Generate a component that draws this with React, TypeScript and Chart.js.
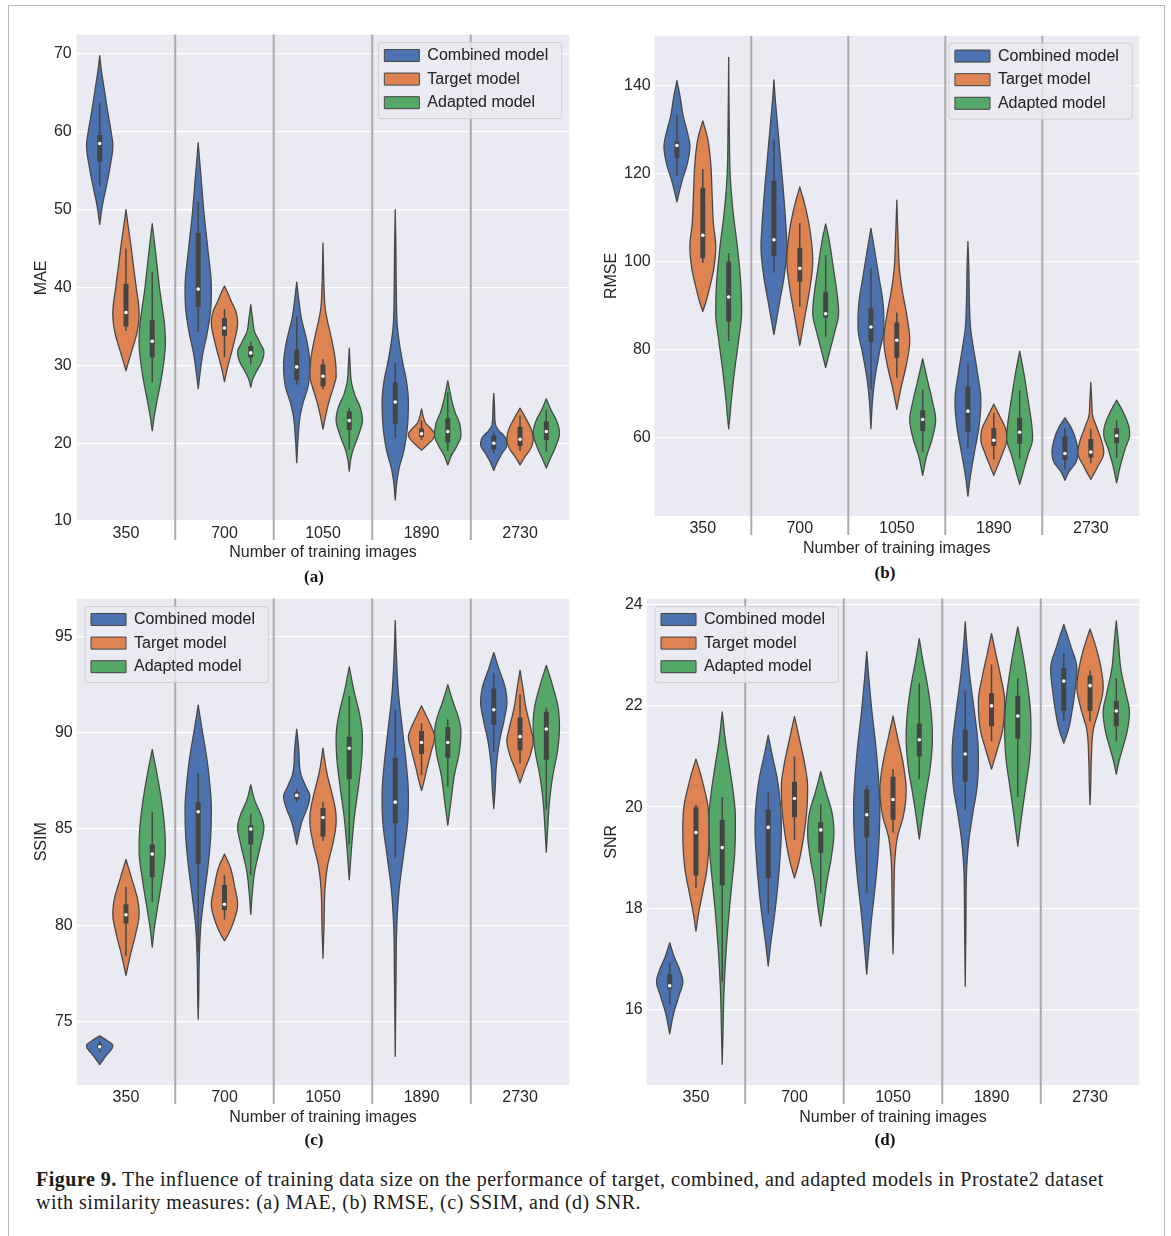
import React, { useEffect, useRef } from 'react';
import { Chart, registerables } from 'chart.js';

Chart.register(...registerables);

const FONT = '"Liberation Sans", Arial, Helvetica, sans-serif';
Chart.defaults.font.family = FONT;
Chart.defaults.font.size = 16;
Chart.defaults.color = '#262626';

// ---------------- DATA ----------------
const groups = ['350', '700', '1050', '1890', '2730'];
const seriesNames = ['Combined model', 'Target model', 'Adapted model'];
const seriesColors = ['#4C72B0', '#DD8452', '#55A868'];
const xTitle = 'Number of training images';

// y-axis ranges [min, max] and tick step
const maeRange = [10, 72.5];
const maeStep = 10;
const rmseRange = [42.3, 151.3];
const rmseStep = 20;
const ssimRange = [71.71, 96.97];
const ssimStep = 5;
const snrRange = [14.51, 24.12];
const snrStep = 2;

// Violin outlines: [value, relative half-width] from lower tip to upper tip (one per group)
// Box stats: [lower whisker, Q1, median, Q3, upper whisker] (one per group)

// (a) MAE
const maeCombinedShape = [
  [[48.1, 0], [50.5, 0.2], [52.7, 0.47], [55.3, 0.77], [58.3, 1], [59.6, 0.91], [62.5, 0.62], [66, 0.3], [68, 0.12], [69.8, 0]],
  [[27, 0], [29.1, 0.15], [31.5, 0.35], [34.3, 0.7], [37.6, 0.97], [40, 1], [44.7, 0.75], [49.4, 0.45], [54.1, 0.22], [56.5, 0.1], [58.6, 0]],
  [[17.5, 0], [20.6, 0.1], [23.4, 0.25], [25.3, 0.5], [27.2, 0.85], [30, 1], [32.9, 0.8], [36.1, 0.35], [38.5, 0.15], [40.7, 0]],
  [[12.7, 0], [15, 0.12], [16.8, 0.3], [19, 0.65], [22, 0.92], [25.3, 1], [28, 0.85], [30.5, 0.55], [33, 0.3], [35.2, 0.15], [40, 0.08], [45, 0.05], [50, 0]],
  [[16.5, 0], [17.5, 0.25], [18.6, 0.6], [19.8, 1], [20.8, 0.85], [21.6, 0.4], [22.5, 0.12], [24.5, 0.06], [26.4, 0]],
];
const maeCombinedBox = [[53.0, 56.2, 58.5, 59.6, 63.8], [34.3, 37.5, 39.8, 47, 51], [27.5, 28.1, 29.8, 32, 36.3], [20.6, 22.5, 25.3, 27.8, 30.3], [18.7, 19.2, 20, 21, 21.5]];
const maeTargetShape = [
  [[29.3, 0], [30.5, 0.2], [31.9, 0.45], [34.3, 0.85], [36.6, 1], [40.4, 0.75], [43, 0.55], [45.1, 0.4], [47.5, 0.2], [50, 0]],
  [[27.9, 0], [29.5, 0.2], [30.5, 0.35], [32.9, 0.72], [35.5, 1], [37, 0.85], [38.1, 0.55], [39.3, 0.25], [40.2, 0]],
  [[21.8, 0], [23.5, 0.2], [25.3, 0.45], [27.5, 0.85], [28.6, 1], [30.5, 0.95], [33.8, 0.6], [36, 0.3], [37.6, 0.15], [40, 0.08], [45.7, 0]],
  [[19.1, 0], [19.8, 0.45], [20.5, 0.85], [21.1, 1], [21.8, 0.75], [22.5, 0.35], [23.3, 0.15], [24.4, 0]],
  [[17.2, 0], [18.2, 0.35], [19.3, 0.8], [20.5, 1], [21.8, 0.85], [23, 0.5], [24.5, 0]],
];
const maeTargetBox = [[34.4, 35, 36.8, 40.5, 45], [31, 33.8, 34.8, 36.1, 37.2], [26.9, 27.3, 28.6, 30.1, 30.8], [20.4, 20.8, 21.2, 21.9, 22.9], [19, 19.6, 20.5, 22.1, 23.6]];
const maeAdaptedShape = [
  [[21.6, 0], [23.4, 0.15], [25.3, 0.35], [28.2, 0.68], [31, 0.92], [32.9, 1], [35, 0.95], [37.6, 0.75], [40, 0.55], [42.3, 0.4], [45, 0.22], [48.2, 0]],
  [[27.2, 0], [28.2, 0.15], [29.1, 0.4], [30.5, 0.85], [31.7, 1], [32.9, 0.7], [34.3, 0.3], [36.2, 0.12], [37.8, 0]],
  [[16.4, 0], [18, 0.12], [19.2, 0.3], [21, 0.7], [23, 1], [24.5, 0.85], [26.3, 0.4], [28, 0.15], [30, 0.07], [32.2, 0]],
  [[17.2, 0], [18.5, 0.3], [19.5, 0.65], [21, 1], [22.5, 0.9], [24, 0.55], [25.5, 0.3], [27, 0.12], [28, 0]],
  [[16.8, 0], [18, 0.3], [19.5, 0.7], [21.3, 1], [22.8, 0.8], [24.3, 0.35], [25.7, 0]],
];
const maeAdaptedBox = [[27.8, 31, 33.1, 35.8, 42], [30.1, 31, 31.6, 32.5, 33.1], [19.2, 21.7, 22.9, 24.1, 24.6], [19, 20.1, 21.5, 23.2, 26.5], [18.9, 20.4, 21.5, 22.8, 24.3]];

// (b) RMSE
const rmseCombinedShape = [
  [[113.6, 0], [116.1, 0.2], [118.6, 0.42], [122, 0.78], [126.2, 1], [129.5, 0.8], [132.9, 0.5], [137.9, 0.22], [141.1, 0]],
  [[83.5, 0], [86.8, 0.2], [91, 0.45], [96.9, 0.8], [103.6, 1], [106.9, 0.95], [115.3, 0.75], [123.7, 0.5], [132, 0.25], [137, 0.1], [141.3, 0]],
  [[62.1, 0], [68.4, 0.12], [73.4, 0.3], [79.3, 0.65], [85.1, 1], [90.2, 0.95], [96.9, 0.6], [102.7, 0.28], [107.6, 0]],
  [[46.8, 0], [51.6, 0.2], [56.7, 0.5], [62.5, 0.85], [68.4, 1], [75.1, 0.72], [81.8, 0.35], [85, 0.2], [90.2, 0.12], [98.5, 0.07], [104.6, 0]],
  [[50.4, 0], [52.3, 0.3], [54.5, 0.85], [56.7, 1], [60, 0.8], [62.5, 0.45], [64.6, 0]],
];
const rmseCombinedBox = [[119.5, 123.6, 126.4, 127.3, 133.3], [97.5, 101.3, 105, 118.4, 127.8], [71, 81.8, 85.2, 89.4, 98.6], [57.6, 61.5, 66.1, 71.6, 77], [52.9, 55, 56.5, 60.4, 62.3]];
const rmseTargetShape = [
  [[88.7, 0], [91, 0.25], [94.4, 0.55], [98.5, 0.85], [103.6, 1], [108.6, 0.82], [115.3, 0.72], [122, 0.62], [127.9, 0.38], [132, 0]],
  [[81, 0], [83.5, 0.15], [87.7, 0.4], [93.5, 0.75], [100.2, 1], [106.9, 0.8], [112.8, 0.4], [117, 0]],
  [[66.5, 0], [68.4, 0.12], [71.7, 0.35], [76.8, 0.75], [82.2, 1], [87.7, 0.78], [93.5, 0.42], [98.5, 0.2], [105, 0.1], [114, 0]],
  [[51.5, 0], [53.7, 0.3], [56.7, 0.7], [59.6, 1], [61.7, 0.95], [65, 0.45], [67.7, 0]],
  [[50.6, 0], [53.3, 0.5], [56.7, 1], [59.2, 0.85], [62.5, 0.45], [65, 0.15], [68, 0.08], [72.6, 0]],
];
const rmseTargetBox = [[99.7, 100.8, 106, 116.8, 121], [89.8, 95.5, 98.5, 103.2, 108.8], [73.7, 78.2, 82.2, 86.2, 88.5], [55.1, 58.2, 59.5, 62.3, 65.7], [54.3, 55.6, 56.8, 59.8, 62]];
const rmseAdaptedShape = [
  [[62.1, 0], [65, 0.1], [68.4, 0.2], [75.1, 0.45], [81.8, 0.75], [88.5, 1], [94.4, 0.95], [102.7, 0.7], [111.1, 0.35], [119.5, 0.12], [130, 0.05], [146.4, 0]],
  [[76, 0], [79.3, 0.28], [83.5, 0.65], [88.5, 1], [91.8, 0.92], [98.5, 0.6], [105.2, 0.25], [108.6, 0]],
  [[51.5, 0], [55.8, 0.3], [60, 0.75], [64.2, 1], [68.4, 0.75], [73.4, 0.35], [78, 0]],
  [[49.5, 0], [52.1, 0.25], [55.8, 0.6], [60, 1], [62.5, 0.95], [69.2, 0.62], [75.1, 0.3], [79.7, 0]],
  [[49.8, 0], [53.3, 0.25], [57.5, 0.65], [60.8, 1], [62.5, 0.95], [65.9, 0.5], [68.6, 0]],
];
const rmseAdaptedBox = [[82, 86.4, 92, 100, 102], [83, 87.3, 88.2, 93.2, 101.5], [56.9, 61.6, 64.2, 66.3, 71], [55.3, 58.7, 61.3, 64.6, 70.9], [55.5, 58.8, 60.5, 62.2, 64]];

// (c) SSIM
const ssimCombinedShape = [
  [[72.77, 0], [73.2, 0.45], [73.75, 1], [74.0, 0.6], [74.26, 0]],
  [[75.13, 0], [76.3, 0.04], [78.2, 0.08], [80, 0.2], [81.5, 0.45], [83.1, 0.75], [84.6, 0.95], [86.1, 1], [87.2, 0.9], [88.7, 0.65], [90.15, 0.3], [91.44, 0]],
  [[84.2, 0], [84.6, 0.12], [85.4, 0.4], [86.1, 0.8], [86.7, 1], [87.2, 0.7], [87.9, 0.3], [89.2, 0.15], [90.19, 0]],
  [[73.2, 0], [77.3, 0.06], [80, 0.12], [81.9, 0.3], [83.5, 0.6], [85.4, 0.95], [86.8, 1], [88.3, 0.85], [90.15, 0.55], [92, 0.25], [93.8, 0.1], [95.83, 0]],
  [[86.06, 0], [87, 0.1], [88.3, 0.2], [89.6, 0.45], [90.7, 0.8], [91.6, 1], [92.4, 0.85], [93.3, 0.4], [94.17, 0]],
];
const ssimCombinedBox = [[73.4, 73.6, 73.7, 73.85, 74], [78.6, 83.2, 85.9, 86.4, 87.9], [86.4, 86.55, 86.75, 86.9, 87.1], [83.5, 85.3, 86.4, 88.7, 91.2], [89, 90.4, 91.2, 92.3, 93.1]];
const ssimTargetShape = [
  [[77.4, 0], [78.5, 0.35], [79.5, 0.72], [80.6, 1], [81.3, 0.9], [82.4, 0.45], [83.42, 0]],
  [[79.2, 0], [79.55, 0.3], [80.2, 0.7], [81.1, 1], [82, 0.78], [83, 0.45], [83.7, 0]],
  [[78.3, 0], [80, 0.08], [81.9, 0.15], [83.1, 0.35], [84.25, 0.75], [85.4, 1], [85.9, 0.97], [86.8, 0.7], [87.9, 0.3], [89.2, 0]],
  [[87, 0], [87.5, 0.2], [88.1, 0.4], [89.05, 0.75], [89.8, 1], [90.15, 0.85], [90.9, 0.35], [91.4, 0]],
  [[87.4, 0], [88, 0.3], [88.9, 0.8], [89.6, 1], [90.15, 0.85], [91.3, 0.45], [92.4, 0.2], [93.25, 0]],
];
const ssimTargetBox = [[78.4, 80.1, 80.55, 81.1, 82], [80.3, 80.8, 81.1, 82.1, 82.6], [84.4, 84.6, 85.6, 86.1, 86.4], [87.8, 88.9, 89.5, 90.1, 90.5], [88.4, 89.1, 89.8, 90.8, 92]];
const ssimAdaptedShape = [
  [[78.87, 0], [79.8, 0.15], [80.9, 0.4], [82.4, 0.75], [83.9, 1], [85, 0.95], [86.5, 0.7], [87.9, 0.35], [89.14, 0]],
  [[80.57, 0], [81.7, 0.12], [82.8, 0.3], [84.25, 0.78], [85.1, 1], [85.7, 0.8], [86.5, 0.3], [87.3, 0]],
  [[82.37, 0], [84.25, 0.2], [85.7, 0.4], [87.2, 0.7], [88.7, 0.95], [89.8, 1], [90.9, 0.8], [92.2, 0.35], [93.43, 0]],
  [[85.2, 0], [86.5, 0.25], [87.8, 0.5], [88.9, 0.85], [90, 1], [90.7, 0.85], [91.6, 0.4], [92.5, 0]],
  [[83.8, 0], [85, 0.1], [86.5, 0.25], [87.8, 0.5], [89.05, 0.85], [90.3, 1], [91.3, 0.9], [92.4, 0.5], [93.5, 0]],
];
const ssimAdaptedBox = [[81.2, 82.5, 83.7, 84.2, 85.9], [82.6, 84.2, 85, 85.2, 85.8], [84.2, 87.6, 89.2, 89.8, 91.9], [87.2, 88.7, 89.5, 90.3, 90.7], [86, 88.6, 90.2, 91.1, 91.3]];

// (d) SNR
const snrCombinedShape = [
  [[15.52, 0], [15.92, 0.3], [16.27, 0.7], [16.55, 1], [16.76, 0.8], [17.04, 0.35], [17.32, 0]],
  [[16.86, 0], [17.32, 0.2], [17.8, 0.45], [18.37, 0.7], [19, 0.9], [19.56, 1], [19.98, 0.95], [20.54, 0.7], [21.03, 0.3], [21.42, 0]],
  [[16.7, 0], [17.32, 0.2], [17.87, 0.4], [18.58, 0.7], [19.28, 0.92], [19.98, 1], [20.47, 0.92], [21.18, 0.7], [21.88, 0.4], [22.58, 0.15], [23.07, 0]],
  [[16.46, 0], [17.67, 0.05], [18.72, 0.1], [19.28, 0.25], [19.84, 0.55], [20.4, 0.9], [20.96, 1], [21.32, 0.95], [21.88, 0.7], [22.58, 0.35], [23.28, 0.1], [23.66, 0]],
  [[21.26, 0], [21.53, 0.35], [21.88, 0.62], [22.3, 0.85], [22.72, 1], [23.21, 0.5], [23.61, 0]],
];
const snrCombinedBox = [[16.1, 16.4, 16.47, 16.7, 16.93], [17.9, 18.6, 19.6, 19.95, 20.3], [18.3, 19.4, 19.85, 20.35, 20.42], [19.95, 20.5, 21.05, 21.53, 22.3], [21.7, 21.9, 22.49, 22.75, 23.05]];
const snrTargetShape = [
  [[17.55, 0], [17.9, 0.2], [18.3, 0.5], [18.8, 0.85], [19.5, 1], [20, 0.92], [20.4, 0.6], [20.7, 0.3], [20.95, 0]],
  [[18.6, 0], [18.93, 0.35], [19.42, 0.7], [19.98, 0.95], [20.4, 1], [20.82, 0.8], [21.38, 0.35], [21.79, 0]],
  [[17.1, 0], [17.67, 0.05], [18.37, 0.08], [19, 0.15], [19.42, 0.35], [19.84, 0.8], [20.33, 1], [20.82, 0.8], [21.38, 0.35], [21.8, 0]],
  [[20.75, 0], [21.1, 0.4], [21.53, 0.85], [22.09, 1], [22.58, 0.7], [23, 0.35], [23.43, 0]],
  [[20.05, 0], [20.4, 0.05], [20.96, 0.1], [21.53, 0.25], [21.95, 0.7], [22.37, 1], [22.65, 0.9], [23.07, 0.55], [23.52, 0]],
];
const snrTargetBox = [[18.4, 18.65, 19.5, 20, 20.05], [19.35, 19.8, 20.17, 20.5, 21], [19.5, 19.75, 20.15, 20.6, 20.75], [21.3, 21.6, 22, 22.25, 22.82], [21.7, 21.9, 22.4, 22.6, 22.7]];
const snrAdaptedShape = [
  [[14.92, 0], [15.57, 0.06], [16.27, 0.12], [16.97, 0.25], [17.7, 0.45], [18.4, 0.7], [19.1, 0.95], [19.8, 1], [20.2, 0.88], [20.8, 0.55], [21.3, 0.25], [21.88, 0]],
  [[17.65, 0], [18, 0.2], [18.5, 0.45], [19, 0.8], [19.5, 1], [19.9, 0.85], [20.3, 0.4], [20.7, 0]],
  [[19.37, 0], [19.84, 0.25], [20.26, 0.5], [20.82, 0.85], [21.38, 1], [21.88, 0.9], [22.37, 0.65], [22.93, 0.25], [23.33, 0]],
  [[19.23, 0], [19.84, 0.3], [20.4, 0.6], [20.96, 0.9], [21.53, 1], [21.95, 0.95], [22.5, 0.7], [23.07, 0.35], [23.56, 0]],
  [[20.65, 0], [20.9, 0.2], [21.18, 0.5], [21.53, 0.85], [21.88, 1], [22.23, 0.75], [22.72, 0.35], [23.28, 0.15], [23.68, 0]],
];
const snrAdaptedBox = [[16.55, 18.45, 19.2, 19.75, 20.2], [18.3, 19.1, 19.55, 19.7, 20.05], [20.55, 21, 21.33, 21.65, 22.45], [20.2, 21.35, 21.8, 22.2, 22.55], [21.3, 21.6, 21.9, 22.1, 22.55]];

// ---------------- STYLE ----------------
const BG = '#EAEAF2';
const EDGE = '#484848';
const SEP = '#ababab';

// monotone cubic sampling of the outline knots (Fritsch-Carlson)
function sampleOutline(knots: number[][], steps = 10): number[][] {
  const n = knots.length;
  if (n < 2) return knots;
  const v = knots.map((k) => k[0]);
  const w = knots.map((k) => k[1]);
  const d: number[] = [];
  for (let k = 0; k < n - 1; k++) d.push((w[k + 1] - w[k]) / (v[k + 1] - v[k]));
  const m: number[] = new Array(n).fill(0);
  m[0] = d[0];
  m[n - 1] = d[n - 2];
  for (let k = 1; k < n - 1; k++) m[k] = d[k - 1] * d[k] <= 0 ? 0 : (d[k - 1] + d[k]) / 2;
  for (let k = 0; k < n - 1; k++) {
    if (d[k] === 0) {
      m[k] = 0;
      m[k + 1] = 0;
    } else {
      const a = m[k] / d[k];
      const b = m[k + 1] / d[k];
      const s = a * a + b * b;
      if (s > 9) {
        const t = 3 / Math.sqrt(s);
        m[k] = t * a * d[k];
        m[k + 1] = t * b * d[k];
      }
    }
  }
  const out: number[][] = [];
  for (let k = 0; k < n - 1; k++) {
    const h = v[k + 1] - v[k];
    for (let j = 0; j < steps; j++) {
      const t = j / steps;
      const t2 = t * t;
      const t3 = t2 * t;
      const val =
        (2 * t3 - 3 * t2 + 1) * w[k] + (t3 - 2 * t2 + t) * h * m[k] + (-2 * t3 + 3 * t2) * w[k + 1] + (t3 - t2) * h * m[k + 1];
      out.push([v[k] + t * h, Math.max(0, val)]);
    }
  }
  out.push([v[n - 1], w[n - 1]]);
  return out;
}

const violinPlugin = {
  id: 'violinPlugin',
  beforeDraw(chart: any, _args: any, opts: any) {
    const { ctx, chartArea: a } = chart;
    ctx.save();
    ctx.fillStyle = BG;
    ctx.fillRect(a.left, a.top, a.right - a.left, a.bottom - a.top);
    ctx.restore();
    // legend placement inside the plot
    const lg = chart.legend;
    if (lg && lg.legendItems) {
      ctx.save();
      ctx.font = `16px ${FONT}`;
      const textW = Math.max(...lg.legendItems.map((it: any) => ctx.measureText(it.text).width));
      ctx.restore();
      const pad = 7.6;
      const fw = 6 + 35 + 13 + textW + 8.4;
      const fh = 76;
      const fl = opts.side === 'right' ? a.right - opts.insetX - fw : a.left + opts.insetX;
      const ft = a.top + opts.insetY;
      chart.$legendFrame = { fl, ft, fw, fh };
      lg.left = fl + 6 - pad;
      lg.top = ft + 12.9 - pad - 8;
      lg.width = fw + 10;
      lg.height = fh + 10;
      lg.right = lg.left + lg.width;
      lg.bottom = lg.top + lg.height;
    }
  },
  beforeDatasetsDraw(chart: any) {
    const { ctx, chartArea: a, scales } = chart;
    const xs = scales.x;
    const ys = scales.y;
    ctx.save();
    // group separators
    ctx.strokeStyle = SEP;
    ctx.lineWidth = 2;
    for (let i = 0; i < groups.length - 1; i++) {
      const x = (xs.getPixelForTick(i) + xs.getPixelForTick(i + 1)) / 2;
      ctx.beginPath();
      ctx.moveTo(x, a.top);
      ctx.lineTo(x, a.bottom + 19);
      ctx.stroke();
    }
    const catW = xs.getPixelForTick(1) - xs.getPixelForTick(0);
    const maxHalf = (catW * 0.8) / 3 / 2;
    ctx.beginPath();
    ctx.rect(a.left, a.top, a.right - a.left, a.bottom - a.top);
    ctx.clip();
    chart.data.datasets.forEach((ds: any, s: number) => {
      const meta = chart.getDatasetMeta(s);
      meta.data.forEach((el: any, i: number) => {
        const cx = el.x;
        const pts = sampleOutline(ds.violinShapes[i], 10);
        ctx.beginPath();
        pts.forEach((p, k) => {
          const y = ys.getPixelForValue(p[0]);
          const x = cx + p[1] * maxHalf;
          if (k === 0) ctx.moveTo(x, y);
          else ctx.lineTo(x, y);
        });
        for (let k = pts.length - 1; k >= 0; k--) {
          ctx.lineTo(cx - pts[k][1] * maxHalf, ys.getPixelForValue(pts[k][0]));
        }
        ctx.closePath();
        ctx.fillStyle = ds.violinColor;
        ctx.fill();
        ctx.lineJoin = 'round';
        ctx.lineWidth = 1.3;
        ctx.strokeStyle = EDGE;
        ctx.stroke();
        // whisker
        const st = ds.violinStats[i];
        ctx.beginPath();
        ctx.moveTo(cx, ys.getPixelForValue(st[0]));
        ctx.lineTo(cx, ys.getPixelForValue(st[4]));
        ctx.lineWidth = 1.5;
        ctx.strokeStyle = EDGE;
        ctx.stroke();
      });
    });
    ctx.restore();
  },
  afterDatasetsDraw(chart: any) {
    const { ctx, scales } = chart;
    const ys = scales.y;
    ctx.save();
    chart.data.datasets.forEach((ds: any, s: number) => {
      const meta = chart.getDatasetMeta(s);
      meta.data.forEach((el: any, i: number) => {
        const st = ds.violinStats[i];
        ctx.beginPath();
        ctx.arc(el.x, ys.getPixelForValue(st[2]), 1.8, 0, Math.PI * 2);
        ctx.fillStyle = '#ffffff';
        ctx.fill();
      });
    });
    const f = chart.$legendFrame;
    if (f) {
      ctx.beginPath();
      ctx.roundRect(f.fl, f.ft, f.fw, f.fh, 3);
      ctx.fillStyle = 'rgba(234,234,242,0.8)';
      ctx.fill();
      ctx.lineWidth = 1;
      ctx.strokeStyle = '#cfcfcf';
      ctx.stroke();
    }
    ctx.restore();
    if (chart.legend) chart.legend.draw();
  },
};

type PanelCfg = {
  key: string;
  yTitle: string;
  range: number[];
  step: number;
  shapes: number[][][][];
  boxes: number[][][];
  canvas: { left: number; top: number; width: number; height: number };
  area: { left: number; top: number; right: number; bottom: number };
  legendSide: string;
  insetX: number;
  insetY: number;
  tickPad: number;
  label: string;
  labelPos: { x: number; y: number };
};

const panels: PanelCfg[] = [
  {
    key: 'a', yTitle: 'MAE', range: maeRange, step: maeStep,
    shapes: [maeCombinedShape, maeTargetShape, maeAdaptedShape],
    boxes: [maeCombinedBox, maeTargetBox, maeAdaptedBox],
    canvas: { left: 28, top: 20, width: 560, height: 546 },
    area: { left: 76.7, top: 32.3, right: 569.3, bottom: 521 },
    legendSide: 'right', insetX: 7.6, insetY: 8, tickPad: 5,
    label: '(a)', labelPos: { x: 314, y: 577 },
  },
  {
    key: 'b', yTitle: 'RMSE', range: rmseRange, step: rmseStep,
    shapes: [rmseCombinedShape, rmseTargetShape, rmseAdaptedShape],
    boxes: [rmseCombinedBox, rmseTargetBox, rmseAdaptedBox],
    canvas: { left: 598, top: 20, width: 560, height: 542 },
    area: { left: 654.3, top: 35.8, right: 1139.3, bottom: 516 },
    legendSide: 'right', insetX: 7, insetY: 7.4, tickPad: 3.6,
    label: '(b)', labelPos: { x: 885, y: 573 },
  },
  {
    key: 'c', yTitle: 'SSIM', range: ssimRange, step: ssimStep,
    shapes: [ssimCombinedShape, ssimTargetShape, ssimAdaptedShape],
    boxes: [ssimCombinedBox, ssimTargetBox, ssimAdaptedBox],
    canvas: { left: 28, top: 585, width: 560, height: 546 },
    area: { left: 76.7, top: 595.7, right: 569.3, bottom: 1085 },
    legendSide: 'left', insetX: 8.3, insetY: 8, tickPad: 4,
    label: '(c)', labelPos: { x: 314, y: 1140 },
  },
  {
    key: 'd', yTitle: 'SNR', range: snrRange, step: snrStep,
    shapes: [snrCombinedShape, snrTargetShape, snrAdaptedShape],
    boxes: [snrCombinedBox, snrTargetBox, snrAdaptedBox],
    canvas: { left: 598, top: 585, width: 560, height: 546 },
    area: { left: 646.7, top: 595.7, right: 1139.3, bottom: 1085 },
    legendSide: 'left', insetX: 8.3, insetY: 8, tickPad: 4,
    label: '(d)', labelPos: { x: 885, y: 1140 },
  },
];

function Panel({ cfg }: { cfg: PanelCfg }) {
  const ref = useRef<HTMLCanvasElement | null>(null);
  useEffect(() => {
    if (!ref.current) return;
    const c = cfg.canvas;
    const a = cfg.area;
    const datasets = seriesNames.map((name, s) => ({
      label: name,
      data: cfg.boxes[s].map((b) => [b[1], b[3]]),
      backgroundColor: '#444444',
      borderWidth: 0,
      barPercentage: 0.19,
      categoryPercentage: 0.8,
      violinColor: seriesColors[s],
      violinShapes: cfg.shapes[s],
      violinStats: cfg.boxes[s],
    }));
    const chart = new Chart(ref.current, {
      type: 'bar',
      data: { labels: groups, datasets: datasets as any },
      plugins: [violinPlugin as any],
      options: {
        responsive: false,
        maintainAspectRatio: false,
        animation: false,
        devicePixelRatio: 1,
        events: [],
        layout: {
          padding: { left: 0, top: a.top - c.top, right: c.left + c.width - a.right, bottom: 0 },
        },
        scales: {
          x: {
            type: 'category',
            offset: true,
            grid: { display: false },
            border: { display: false },
            ticks: { padding: -5, color: '#262626', font: { size: 16 } },
            title: { display: true, text: xTitle, color: '#262626', font: { size: 16 }, padding: { top: 4, bottom: 4 } },
            afterFit: (scale: any) => {
              scale.height = c.top + c.height - a.bottom;
            },
          },
          y: {
            type: 'linear',
            min: cfg.range[0],
            max: cfg.range[1],
            grid: { color: '#ffffff', lineWidth: 1.3, drawTicks: false },
            border: { display: false },
            ticks: { stepSize: cfg.step, includeBounds: false, padding: cfg.tickPad, color: '#262626', font: { size: 16 } },
            title: { display: true, text: cfg.yTitle, color: '#262626', font: { size: 16 }, padding: { top: 4, bottom: 4 } },
            afterFit: (scale: any) => {
              scale.width = a.left - c.left;
            },
          },
        } as any,
        plugins: {
          tooltip: { enabled: false },
          legend: {
            display: true,
            position: 'chartArea',
            align: 'start',
            labels: {
              boxWidth: 35,
              boxHeight: 12,
              padding: 7.6,
              color: '#262626',
              font: { size: 16 },
              generateLabels: (ch: any) =>
                ch.data.datasets.map((ds: any, i: number) => ({
                  text: ds.label,
                  fillStyle: ds.violinColor,
                  strokeStyle: EDGE,
                  lineWidth: 1,
                  hidden: false,
                  datasetIndex: i,
                  fontColor: '#262626',
                })),
            },
          },
          violinPlugin: { side: cfg.legendSide, insetX: cfg.insetX, insetY: cfg.insetY },
        } as any,
      },
    });
    return () => chart.destroy();
  }, [cfg]);
  const c = cfg.canvas;
  return (
    <canvas
      ref={ref}
      width={c.width}
      height={c.height}
      style={{ position: 'absolute', left: c.left, top: c.top, width: c.width, height: c.height }}
    />
  );
}

export default function App() {
  return (
    <div style={{ position: 'absolute', left: 0, top: 0, width: 1171, height: 1236, background: '#ffffff', overflow: 'hidden' }}>
      <div
        style={{
          position: 'absolute', left: 8, top: 5, width: 1155, height: 1260,
          borderLeft: '1px solid #b8b8b8', borderRight: '1px solid #b8b8b8', borderTop: '1px solid #b8b8b8',
        }}
      />
      {panels.map((p) => (
        <Panel key={p.key} cfg={p} />
      ))}
      {panels.map((p) => (
        <div
          key={'lbl' + p.key}
          style={{
            position: 'absolute', left: p.labelPos.x - 50, top: p.labelPos.y - 10, width: 100, height: 20,
            textAlign: 'center', lineHeight: '20px', fontFamily: '"Liberation Serif", "Times New Roman", serif',
            fontWeight: 'bold', fontSize: 17, color: '#111',
          }}
        >
          {p.label}
        </div>
      ))}
      <div
        style={{
          position: 'absolute', left: 36, top: 1168, fontFamily: '"Liberation Serif", "Times New Roman", serif',
          fontSize: 20, letterSpacing: 0.5, lineHeight: '23px', color: '#1a1a1a', whiteSpace: 'nowrap',
        }}
      >
        <b>Figure 9.</b> The influence of training data size on the performance of target, combined, and adapted models in Prostate2 dataset
        <br />
        with similarity measures: (a) MAE, (b) RMSE, (c) SSIM, and (d) SNR.
      </div>
    </div>
  );
}
